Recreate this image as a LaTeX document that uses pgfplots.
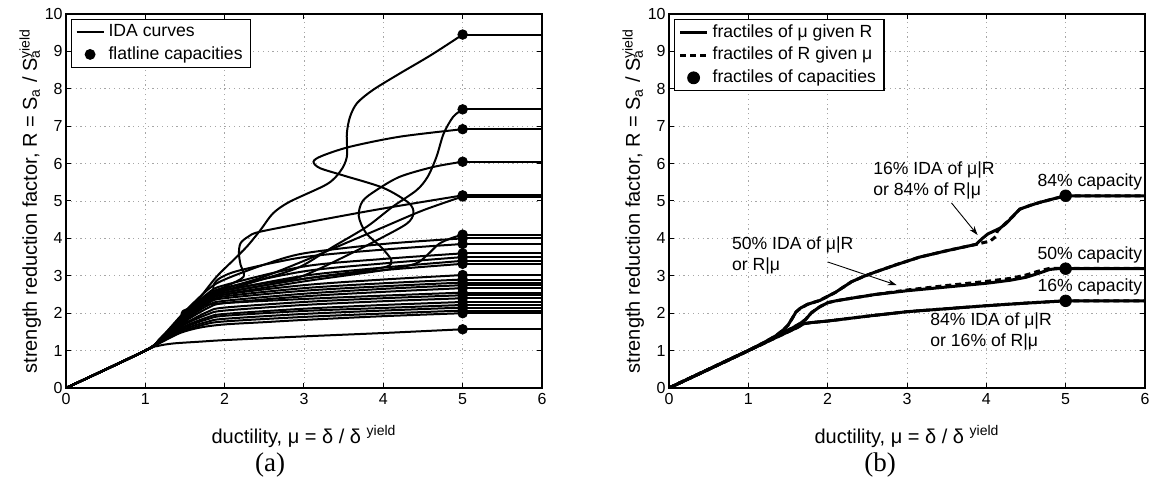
\documentclass[border=0pt]{standalone}
\usepackage{fontspec}
\setmainfont{Liberation Sans}
\newfontfamily\timesf{Liberation Serif}
\usepackage{pgfplots}
\pgfplotsset{compat=1.18}
\usetikzlibrary{arrows.meta}

\pgfplotsset{
  idabase/.style={
    scale only axis, width=238pt, height=187pt,
    xmin=0,xmax=6,ymin=0,ymax=10,
    xtick={0,...,6}, ytick={0,...,10},
    xticklabel={\pgfmathparse{int(round(\tick))}\mbox{\pgfmathresult}},
    yticklabel={\pgfmathparse{int(round(\tick))}\mbox{\pgfmathresult}},
    grid=major,
    major grid style={gray!70, line width=0.45pt, dash pattern=on 0.6pt off 1.8pt},
    tick align=inside, xtick pos=both, ytick pos=both,
    major tick length=2.5pt,
    every tick/.style={black, line width=0.5pt},
    axis line style={line width=0.9pt},
    tick label style={font=\fontsize{8}{9.5}\selectfont},
    yticklabel style={inner xsep=1.5pt},
    xticklabel style={inner ysep=2.5pt},
    label style={font=\fontsize{8.8}{10}\selectfont},
    xlabel={ductility, μ = δ / δ\ \textsuperscript{yield}},
    ylabel={strength reduction factor, R = S\textsubscript{a} / S\rlap{\textsubscript{a}}\textsuperscript{yield}},
    every axis y label/.style={at={(axis description cs:-0.075,0.5)}, rotate=90, anchor=center},
    every axis x label/.style={at={(axis description cs:0.5,-0.13)}, anchor=center},
    legend cell align=left,
    legend image code/.code={\draw[#1] (0pt,0pt) -- (13.5pt,0pt);},
    legend style={at={(axis description cs:0.0105,0.987)}, anchor=north west,
      draw=black, line width=0.6pt, fill=white,
      font=\fontsize{8.8}{10}\selectfont, inner xsep=2pt, inner ysep=0.5pt, row sep=-0.5pt},
  },
  ida/.style={black, line width=1pt, smooth, tension=0.5, no marks, forget plot},
  dotlegend/.style={legend image code/.code={\draw[##1] plot coordinates {(6.75pt,0pt)};}},
}

\begin{document}
\begin{tikzpicture}
\path[use as bounding box] (0,0) rectangle (575pt,245pt);

% ---------------- (a) ----------------
\begin{axis}[idabase, at={(33pt,51pt)}, anchor=south west]
\addlegendimage{black, line width=1pt}
\addlegendentry{IDA curves}
\addplot[only marks, mark=*, mark size=2.4pt, black, dotlegend] coordinates {
(5,9.45)(5,7.45)(5,6.92)(5,6.05)(5,5.15)(5,5.12)(5,4.10)(5,4.00)(5,3.85)(5,3.60)
(5,3.50)(5,3.40)(5,3.32)(5,3.02)(5,2.90)(5,2.82)(5,2.75)(5,2.67)(5,2.55)(5,2.48)
(5,2.40)(5,2.30)(5,2.22)(5,2.15)(5,2.07)(5,2.00)(5,1.57)};
\addlegendentry{flatline capacities}

\addplot[black, line width=1pt, unbounded coords=jump, forget plot] coordinates {
(5,9.45)(6,9.45)(5,nan)(5,7.45)(6,7.45)(5,nan)(5,6.92)(6,6.92)(5,nan)(5,6.05)(6,6.05)(5,nan)
(5,5.15)(6,5.15)(5,nan)(5,5.12)(6,5.12)(5,nan)(5,4.10)(6,4.10)(5,nan)(5,4.00)(6,4.00)(5,nan)
(5,3.85)(6,3.85)(5,nan)(5,3.60)(6,3.60)(5,nan)(5,3.50)(6,3.50)(5,nan)(5,3.40)(6,3.40)(5,nan)
(5,3.32)(6,3.32)(5,nan)(5,3.02)(6,3.02)(5,nan)(5,2.90)(6,2.90)(5,nan)(5,2.82)(6,2.82)(5,nan)
(5,2.75)(6,2.75)(5,nan)(5,2.67)(6,2.67)(5,nan)(5,2.55)(6,2.55)(5,nan)(5,2.48)(6,2.48)(5,nan)
(5,2.40)(6,2.40)(5,nan)(5,2.30)(6,2.30)(5,nan)(5,2.22)(6,2.22)(5,nan)(5,2.15)(6,2.15)(5,nan)
(5,2.07)(6,2.07)(5,nan)(5,2.00)(6,2.00)(5,nan)(5,1.57)(6,1.57)};

\addplot[ida] coordinates {(0,0)(1,1)(1.15,1.12)(1.35,1.19)(1.7,1.24)(2,1.28)(3,1.38)(4,1.47)(5,1.57)};
\addplot[ida] coordinates {(0,0)(1,1)(1.2,1.22)(1.45,1.48)(1.7,1.62)(2,1.7)(2.5,1.76)(3,1.82)(4,1.92)(5,2.0)};
\addplot[ida] coordinates {(0,0)(1,1)(1.2,1.23)(1.45,1.5)(1.75,1.7)(2,1.78)(3,1.9)(4,1.99)(5,2.07)};
\addplot[ida] coordinates {(0,0)(1,1)(1.2,1.24)(1.5,1.58)(1.8,1.78)(2,1.85)(3,1.98)(4,2.07)(5,2.15)};
\addplot[ida] coordinates {(0,0)(1,1)(1.2,1.25)(1.5,1.62)(1.8,1.85)(2,1.93)(3,2.06)(4,2.14)(5,2.22)};
\addplot[ida] coordinates {(0,0)(1,1)(1.2,1.25)(1.5,1.65)(1.8,1.9)(2,1.98)(3,2.12)(4,2.22)(5,2.3)};
\addplot[ida] coordinates {(0,0)(1,1)(1.2,1.26)(1.5,1.7)(1.8,1.98)(2,2.07)(3,2.22)(4,2.32)(5,2.4)};
\addplot[ida] coordinates {(0,0)(1,1)(1.2,1.26)(1.5,1.72)(1.8,2.05)(2,2.15)(3,2.3)(4,2.4)(5,2.48)};
\addplot[ida] coordinates {(0,0)(1,1)(1.2,1.3)(1.5,1.75)(1.53,1.85)(1.46,1.93)(1.47,2.05)(1.56,2.13)(1.7,2.2)(2,2.27)(3,2.38)(4,2.47)(5,2.55)};
\addplot[ida] coordinates {(0,0)(1,1)(1.2,1.27)(1.5,1.78)(1.8,2.15)(2,2.27)(3,2.45)(4,2.57)(5,2.67)};
\addplot[ida] coordinates {(0,0)(1,1)(1.2,1.28)(1.5,1.82)(1.8,2.22)(2,2.33)(3,2.52)(4,2.65)(5,2.75)};
\addplot[ida] coordinates {(0,0)(1,1)(1.2,1.3)(1.5,1.85)(1.8,2.28)(2,2.4)(3,2.6)(4,2.72)(5,2.82)};
\addplot[ida] coordinates {(0,0)(1,1)(1.2,1.3)(1.5,1.88)(1.8,2.3)(2,2.45)(3,2.67)(4,2.8)(5,2.9)};
\addplot[ida] coordinates {(0,0)(1,1)(1.2,1.3)(1.5,1.9)(1.8,2.35)(2,2.5)(3,2.75)(4,2.9)(5,3.02)};
\addplot[ida] coordinates {(0,0)(1,1)(1.2,1.32)(1.5,1.92)(1.8,2.4)(2,2.55)(3,2.92)(4,3.15)(5,3.32)};
\addplot[ida] coordinates {(0,0)(1,1)(1.2,1.32)(1.5,1.95)(1.8,2.45)(2,2.6)(3,3.0)(4,3.22)(5,3.4)};
\addplot[ida] coordinates {(0,0)(1,1)(1.2,1.32)(1.5,1.95)(1.8,2.5)(2,2.68)(3,3.12)(4,3.33)(5,3.5)};
\addplot[ida] coordinates {(0,0)(1,1)(1.2,1.33)(1.5,2.0)(1.8,2.55)(2,2.75)(3,3.25)(4,3.45)(5,3.6)};
\addplot[ida] coordinates {(0,0)(1,1)(1.2,1.33)(1.5,1.98)(1.75,2.35)(1.86,2.45)(1.86,2.75)(1.95,2.95)(2.2,3.15)(3,3.5)(4,3.7)(5,3.85)};
\addplot[ida] coordinates {(0,0)(1,1)(1.2,1.35)(1.5,2.05)(1.8,2.65)(2,2.9)(2.5,3.3)(3,3.6)(4,3.85)(5,4.0)};
\addplot[ida] coordinates {(0,0)(1,1)(1.2,1.3)(1.5,1.9)(1.8,2.35)(2,2.5)(3,2.85)(4,3.15)(4.4,3.32)(4.55,3.55)(4.7,3.85)(4.85,4.0)(5,4.1)};
\addplot[ida] coordinates {(0,0)(1,1)(1.2,1.35)(1.5,1.98)(1.8,2.5)(2.05,2.75)(2.24,2.98)(2.2,3.3)(2.18,3.6)(2.2,3.87)(2.3,4.05)(2.45,4.18)(3.2,4.49)(4,4.8)(5,5.15)};
\addplot[ida] coordinates {(0,0)(1,1)(1.2,1.32)(1.5,1.95)(1.8,2.45)(2,2.65)(2.5,2.98)(3,3.4)(3.5,3.85)(4,4.3)(4.5,4.75)(5,5.12)};
\addplot[ida] coordinates {(0,0)(1,1)(1.2,1.33)(1.5,1.95)(1.8,2.4)(2,2.55)(3,2.92)(3.7,3.12)(4.05,3.25)(4.1,3.42)(3.98,3.75)(3.78,4.15)(3.69,4.6)(3.74,5.0)(3.92,5.3)(4.21,5.65)(4.63,5.91)(5,6.05)};
\addplot[ida] coordinates {(0,0)(1,1)(1.2,1.33)(1.5,2.0)(1.8,2.48)(2,2.62)(2.5,2.8)(2.95,2.97)(3.5,3.5)(4.0,4.04)(4.3,4.4)(4.38,4.67)(4.32,4.95)(4.0,5.35)(3.5,5.68)(3.2,5.88)(3.12,6.05)(3.22,6.2)(3.58,6.45)(4.21,6.72)(5,6.92)};
\addplot[ida] coordinates {(0,0)(1,1)(1.2,1.33)(1.5,1.98)(1.8,2.42)(2,2.6)(2.5,2.92)(2.95,3.24)(3.37,3.78)(3.79,4.31)(4.12,4.85)(4.42,5.29)(4.56,5.65)(4.67,6.18)(4.76,6.8)(4.88,7.25)(5,7.45)};
\addplot[ida] coordinates {(0,0)(1,1)(1.2,1.35)(1.5,1.95)(1.7,2.45)(1.9,2.98)(2.11,3.42)(2.28,3.78)(2.45,4.22)(2.61,4.67)(2.82,4.98)(3.29,5.45)(3.46,5.8)(3.54,6.18)(3.54,6.8)(3.58,7.25)(3.67,7.62)(3.87,7.97)(4.2,8.4)(4.6,8.9)(5,9.45)};
\end{axis}

% ---------------- (b) ----------------
\begin{axis}[idabase, at={(334.5pt,51pt)}, anchor=south west]
\addplot[black, line width=1.5pt] coordinates {(0,0)(1,1)(1.2,1.22)(1.35,1.4)(1.45,1.57)(1.5,1.68)(1.55,1.85)(1.6,2.03)(1.66,2.14)(1.75,2.24)(1.9,2.34)(2.0,2.45)(2.1,2.56)(2.2,2.7)(2.3,2.84)(2.45,2.98)(2.6,3.1)(2.87,3.3)(3.16,3.5)(3.5,3.67)(3.87,3.84)(3.95,4.0)(4.02,4.12)(4.17,4.27)(4.25,4.4)(4.33,4.58)(4.42,4.78)(4.55,4.88)(4.67,4.96)(4.85,5.06)(5,5.14)(6,5.14)};
\addlegendentry{fractiles of μ given R}
\addplot[black, line width=1.5pt, dash pattern=on 3pt off 2pt] coordinates {(0,0)(1,1)(1.2,1.22)(1.35,1.4)(1.45,1.57)(1.5,1.68)(1.55,1.85)(1.6,2.03)(1.66,2.14)(1.75,2.24)(1.9,2.34)(2.0,2.45)(2.1,2.56)(2.2,2.7)(2.3,2.84)(2.45,2.98)(2.6,3.1)(2.87,3.3)(3.16,3.5)(3.5,3.67)(3.87,3.84)(3.95,3.88)(4.05,3.93)(4.12,4.05)(4.14,4.2)(4.2,4.32)(4.25,4.42)(4.33,4.58)(4.42,4.78)(4.55,4.88)(4.67,4.96)(4.85,5.06)(5,5.14)(6,5.14)};
\addlegendentry{fractiles of R given μ}
\addplot[only marks, mark=*, mark size=2.9pt, black, dotlegend] coordinates {(5,5.14)(5,3.19)(5,2.33)};
\addlegendentry{fractiles of capacities}

\addplot[black, line width=1.5pt, forget plot] coordinates {(0,0)(1,1)(1.2,1.2)(1.4,1.44)(1.55,1.6)(1.65,1.72)(1.72,1.83)(1.8,2.02)(1.9,2.17)(2.0,2.28)(2.1,2.33)(2.3,2.4)(2.6,2.5)(3.0,2.6)(3.5,2.7)(4.0,2.8)(4.3,2.88)(4.5,2.96)(4.65,3.06)(4.8,3.17)(4.9,3.19)(5,3.19)(6,3.19)};
\addplot[black, line width=1.5pt, dash pattern=on 3pt off 2pt, forget plot] coordinates {(0,0)(1,1)(1.2,1.2)(1.4,1.44)(1.55,1.6)(1.65,1.72)(1.72,1.83)(1.8,2.02)(1.9,2.17)(2.0,2.28)(2.1,2.33)(2.3,2.4)(2.6,2.5)(3.0,2.62)(3.5,2.74)(4.0,2.85)(4.3,2.93)(4.5,3.02)(4.65,3.12)(4.8,3.2)(5,3.2)(6,3.2)};
\addplot[black, line width=1.5pt, forget plot] coordinates {(0,0)(1,1)(1.3,1.3)(1.5,1.5)(1.62,1.62)(1.7,1.72)(1.8,1.75)(2.0,1.79)(2.5,1.92)(3.0,2.04)(3.5,2.12)(4.0,2.2)(4.5,2.27)(5,2.33)(6,2.33)};
\addplot[black, line width=1.5pt, dash pattern=on 3pt off 2pt, forget plot] coordinates {(0,0)(1,1)(1.3,1.3)(1.5,1.5)(1.62,1.62)(1.7,1.72)(1.8,1.75)(2.0,1.79)(2.5,1.92)(3.0,2.04)(3.5,2.12)(4.0,2.2)(4.5,2.27)(5,2.33)(6,2.33)};

\begin{scope}[every node/.style={font=\fontsize{8.8}{10.5}\selectfont, inner sep=0pt, align=left}]
\node[anchor=west] at (axis cs:2.57,5.55) {16\% IDA of μ|R\\or 84\% of R|μ};
\node[anchor=west] at (axis cs:0.79,3.53) {50\% IDA of μ|R\\or R|μ};
\node[anchor=west] at (axis cs:3.29,1.50) {84\% IDA of μ|R\\or 16\% of R|μ};
\node[anchor=west] at (axis cs:4.64,5.50) {84\% capacity};
\node[anchor=west] at (axis cs:4.64,3.56) {50\% capacity};
\node[anchor=west] at (axis cs:4.64,2.70) {16\% capacity};
\end{scope}
\draw[-{Stealth[length=4.5pt,width=3pt]}, line width=0.45pt] (axis cs:3.56,4.95) -- (axis cs:3.89,4.09);
\draw[-{Stealth[length=4.5pt,width=3pt]}, line width=0.45pt] (axis cs:2.0,3.37) -- (axis cs:2.87,2.75);
\end{axis}

\node[font=\timesf\fontsize{13.5}{15}\selectfont] at (135pt,12.5pt) {(a)};
\node[font=\timesf\fontsize{13.5}{15}\selectfont] at (440pt,12.5pt) {(b)};
\end{tikzpicture}
\end{document}
